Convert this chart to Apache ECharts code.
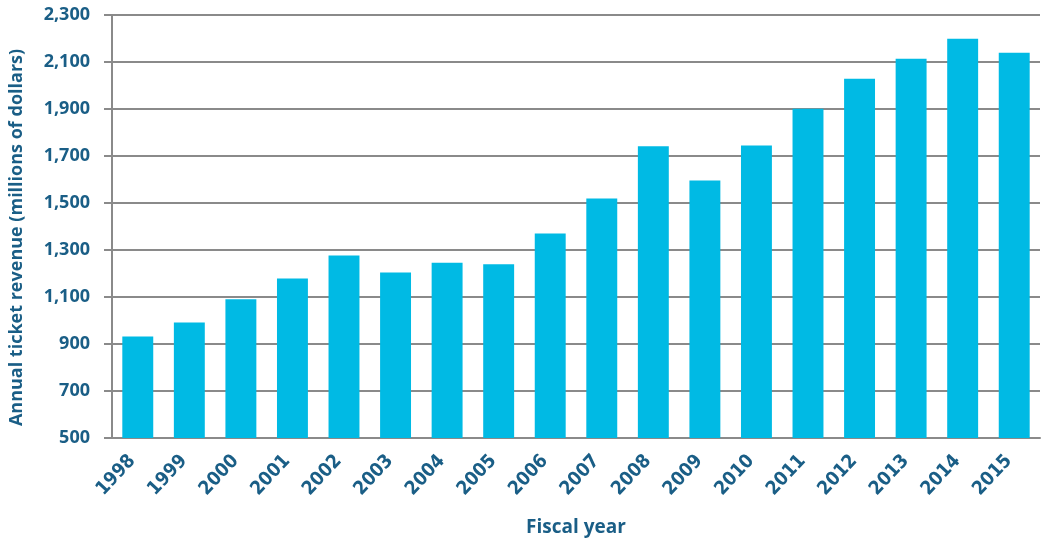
<!DOCTYPE html>
<html>
<head>
<meta charset="utf-8">
<script src="https://cdn.jsdelivr.net/npm/echarts@6/dist/echarts.min.js"></script>
<style>
  html, body { margin: 0; padding: 0; background: #fff; }
  #chart { width: 1042px; height: 543px; }
</style>
</head>
<body>
<div id="chart"></div>
<script>
// data
var years = ['1998','1999','2000','2001','2002','2003','2004','2005','2006',
             '2007','2008','2009','2010','2011','2012','2013','2014','2015'];
var revenue = [932, 992, 1090, 1179, 1277, 1204, 1246, 1239, 1370,
               1519, 1741, 1596, 1745, 1901, 2029, 2114, 2199, 2139];

var textColor = '#1a5e86';
var lineColor = '#8a8a8a';
var fontFam = '"Open Sans", "Noto Sans", sans-serif';

var chart = echarts.init(document.getElementById('chart'));
var option = {
  animation: false,
  grid: { left: 112, right: 2, top: 15, bottom: 105, outerBoundsMode: 'none', containLabel: false },
  xAxis: {
    type: 'category',
    data: years,
    name: 'Fiscal year',
    nameLocation: 'middle',
    nameGap: 80,
    nameTextStyle: { color: textColor, fontSize: 19, fontWeight: 'bold', fontFamily: fontFam },
    axisLine: { show: true, lineStyle: { color: lineColor, width: 2 } },
    axisTick: { show: false },
    axisLabel: {
      rotate: 47, margin: 14, padding: [0, 8, 0, 0],
      color: textColor, fontSize: 19, fontWeight: 'bold',
      fontFamily: '"DejaVu Sans Condensed", "Open Sans", sans-serif'
    }
  },
  yAxis: {
    type: 'value',
    min: 500, max: 2300, interval: 200,
    name: 'Annual ticket revenue (millions of dollars)',
    nameLocation: 'middle',
    nameGap: 86,
    nameTextStyle: { color: textColor, fontSize: 18, fontWeight: 'bold', fontFamily: fontFam,
                     padding: [0, 22, 0, 0] },
    axisLine: { show: true, lineStyle: { color: lineColor, width: 2 } },
    axisTick: { show: true, length: 8, lineStyle: { color: lineColor, width: 2 } },
    splitLine: { show: true, lineStyle: { color: lineColor, width: 2 } },
    axisLabel: {
      margin: 22,
      color: textColor, fontSize: 18, fontWeight: 'bold', fontFamily: fontFam,
      formatter: function (v) { return v.toLocaleString('en-US'); }
    }
  },
  series: [{
    type: 'bar',
    data: revenue,
    barCategoryGap: '40%',
    itemStyle: { color: '#00bae4' }
  }]
};
chart.setOption(option);
</script>
</body>
</html>
